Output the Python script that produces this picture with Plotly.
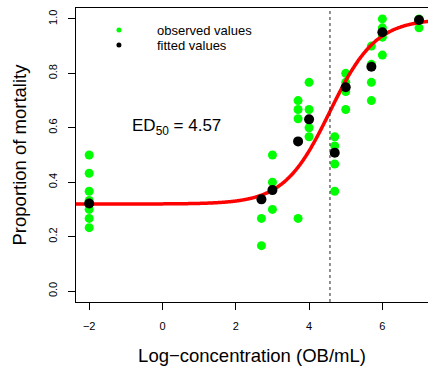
import numpy as np
import plotly.graph_objects as go

# ---- data ----
obs_x = [-2, -2, -2, -2, -2, -2, -2,
         2.7, 2.7,
         3.0, 3.0, 3.0,
         3.7, 3.7, 3.7, 3.7,
         4.0, 4.0, 4.0, 4.0,
         4.7, 4.7, 4.7, 4.7,
         5.0, 5.0, 5.0, 5.0,
         5.7, 5.7, 5.7, 5.7,
         6.0, 6.0, 6.0, 6.0,
         7.0, 7.0]
obs_y = [0.500, 0.433, 0.367, 0.333, 0.300, 0.267, 0.233,
         0.267, 0.167,
         0.500, 0.400, 0.300,
         0.700, 0.667, 0.633, 0.267,
         0.767, 0.667, 0.600, 0.567,
         0.567, 0.533, 0.467, 0.367,
         0.800, 0.767, 0.733, 0.667,
         0.900, 0.833, 0.767, 0.700,
         1.000, 0.967, 0.933, 0.867,
         1.000, 0.967]

fit_x = [-2, 2.7, 3.0, 3.7, 4.0, 4.7, 5.0, 5.7, 6.0, 7.0]
fit_y = [0.322, 0.337, 0.371, 0.550, 0.631, 0.508, 0.749, 0.824, 0.951, 0.996]

# fitted logistic model parameters (lower, upper, slope, ED50)
lower_asym = 0.32
upper_asym = 1.0
slope = 1.6
ED50 = 4.57

x_ticks = [-2, 0, 2, 4, 6]
y_ticks = [0.0, 0.2, 0.4, 0.6, 0.8, 1.0]

curve_x = np.linspace(-2.4, 7.4, 400)
curve_y = lower_asym + (upper_asym - lower_asym) / (1 + np.exp(-slope * (curve_x - ED50)))

FONT = "Liberation Sans, Arial, Helvetica, sans-serif"

fig = go.Figure()
fig.add_trace(go.Scatter(x=obs_x, y=obs_y, mode="markers", name="observed values",
                         marker=dict(color="#00FF00", size=9), showlegend=False))
fig.add_trace(go.Scatter(x=curve_x, y=curve_y, mode="lines", name="fit",
                         line=dict(color="#FF0000", width=3.5, shape="spline"), showlegend=False))
fig.add_trace(go.Scatter(x=fit_x, y=fit_y, mode="markers", name="fitted values",
                         marker=dict(color="#000000", size=10), showlegend=False))

# dashed ED50 line
fig.add_shape(type="line", xref="x", yref="paper", x0=ED50, x1=ED50, y0=0, y1=1,
              line=dict(color="#222222", width=1, dash="3px,3px"))

# custom legend (dots + text)
leg_x = 0.122
for yy, col, label in [(0.925, "#00FF00", "observed values"), (0.874, "#000000", "fitted values")]:
    fig.add_shape(type="circle", xref="paper", yref="paper", xsizemode="pixel", ysizemode="pixel",
                  xanchor=leg_x, yanchor=yy, x0=-2.5, x1=2.5, y0=-2.5, y1=2.5,
                  fillcolor=col, line=dict(width=0))
    fig.add_annotation(xref="paper", yref="paper", x=0.2244, y=yy, text=label, showarrow=False,
                       xanchor="left", yanchor="middle", font=dict(size=13, color="black", family=FONT))

fig.add_annotation(xref="paper", yref="paper", x=0.152, y=0.595,
                   text="ED<sub>50</sub> = 4.57", showarrow=False, xanchor="left", yanchor="middle",
                   font=dict(size=17, color="black", family=FONT))

fig.update_layout(
    width=428, height=366,
    margin=dict(l=76, r=0, t=8, b=64),
    paper_bgcolor="white", plot_bgcolor="white",
    font=dict(family=FONT, color="black"),
    showlegend=False,
    xaxis=dict(range=[-2.36, 7.245], tickvals=x_ticks, ticks="outside", ticklen=7,
               tickcolor="black", showgrid=False, zeroline=False, showline=True,
               linecolor="black", linewidth=1, mirror=True,
               tickfont=dict(size=11, family=FONT), ticklabelstandoff=7,
               title=dict(text="Log\u2212concentration (OB/mL)", font=dict(size=18.5, family=FONT), standoff=17)),
    yaxis=dict(range=[-0.04, 1.04], tickvals=y_ticks, tickformat=".1f", ticks="outside", ticklen=7,
               tickcolor="black", showgrid=False, zeroline=False, showline=True,
               linecolor="black", linewidth=1, tickangle=-90,
               tickfont=dict(size=11, family=FONT), ticklabelstandoff=7,
               title=dict(text="Proportion of mortality", font=dict(size=18.5, family=FONT), standoff=15)),
)

fig.write_html("out.html")
